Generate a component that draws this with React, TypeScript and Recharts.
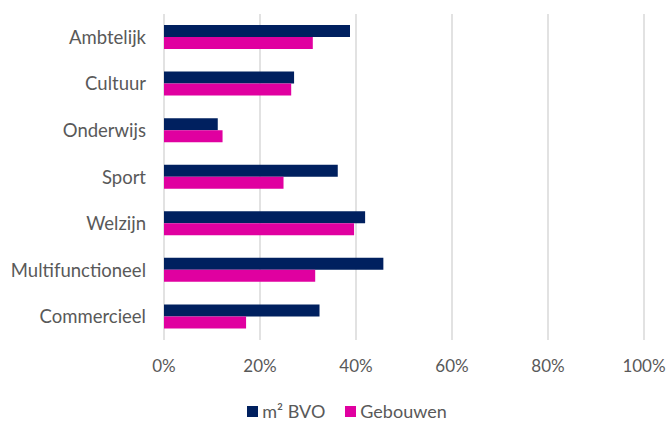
import { Bar, BarChart, CartesianGrid, Legend, XAxis, YAxis } from 'recharts';

const categories = ['Ambtelijk', 'Cultuur', 'Onderwijs', 'Sport', 'Welzijn', 'Multifunctioneel', 'Commercieel'];
const m2Bvo = [0.3875, 0.271, 0.112, 0.362, 0.419, 0.457, 0.324];
const gebouwen = [0.31, 0.265, 0.122, 0.249, 0.396, 0.315, 0.171];
const xTicks = [0, 0.2, 0.4, 0.6, 0.8, 1];
const seriesNames = ['m² BVO', 'Gebouwen'];
const seriesColors = ['#00205f', '#e000a0'];

const data = categories.map((name, i) => ({ name, m2: m2Bvo[i], geb: gebouwen[i] }));

const font = 'Lato, "Open Sans", sans-serif';
const textColor = '#595959';

function LegendBox() {
  return (
    <div
      style={{
        height: 42,
        display: 'flex',
        justifyContent: 'center',
        alignItems: 'center',
        paddingTop: 20,
        paddingLeft: 50,
        boxSizing: 'border-box',
        fontFamily: font,
        fontSize: 18,
        color: textColor,
      }}
    >
      {seriesNames.map((n, i) => (
        <span key={n} style={{ display: 'flex', alignItems: 'center', marginRight: i === 0 ? 20 : 0 }}>
          <span style={{ width: 11, height: 11, background: seriesColors[i], marginRight: 4, display: 'inline-block' }} />
          {n}
        </span>
      ))}
    </div>
  );
}

export default function App() {
  return (
    <div style={{ position: 'absolute', left: 0, top: 0, width: 669, height: 422, background: '#fff' }}>
      <BarChart
        width={669}
        height={422}
        data={data}
        layout="vertical"
        margin={{ top: 14, right: 25, left: 0, bottom: 0 }}
        barSize={12}
        barGap={0}
        style={{ fontFamily: font }}
      >
        <CartesianGrid horizontal={false} stroke="#d9d9d9" strokeWidth={1.5} />
        <XAxis
          type="number"
          domain={[0, 1]}
          ticks={xTicks}
          tickFormatter={(v: number) => `${Math.round(v * 100)}%`}
          axisLine={false}
          tickLine={false}
          tickMargin={14}
          height={40}
          tick={{ fontSize: 17, fill: textColor }}
        />
        <YAxis
          type="category"
          dataKey="name"
          width={164}
          axisLine={false}
          tickLine={false}
          tickMargin={12}
          tick={{ fontSize: 18.5, fill: textColor }}
        />
        <Legend verticalAlign="bottom" height={42} content={() => <LegendBox />} />
        <Bar dataKey="m2" name="m² BVO" fill={seriesColors[0]} isAnimationActive={false} />
        <Bar dataKey="geb" name="Gebouwen" fill={seriesColors[1]} isAnimationActive={false} />
      </BarChart>
    </div>
  );
}
